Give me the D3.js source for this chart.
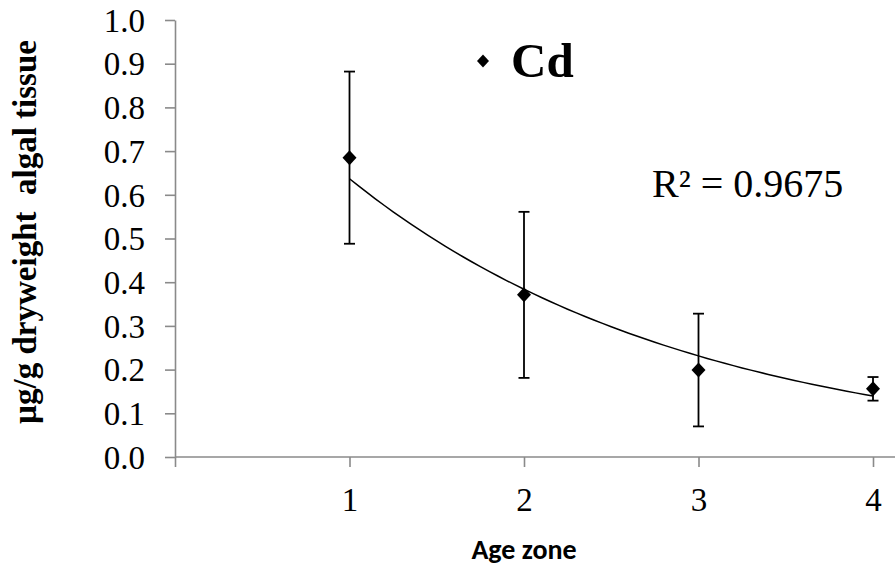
<!DOCTYPE html>
<html>
<head>
<meta charset="utf-8">
<script src="https://cdn.jsdelivr.net/npm/d3@7"></script>
<style>
html, body { margin: 0; padding: 0; background: #fff; }
svg { display: block; }
</style>
</head>
<body>
<svg id="chart" width="895" height="569"></svg>
<script>
// ---- data ----
const ageZones = [1, 2, 3, 4];
const cdMeans = [0.685, 0.371, 0.199, 0.156];
const cdErrors = [0.197, 0.190, 0.129, 0.027];
const yTicks = [0, 0.1, 0.2, 0.3, 0.4, 0.5, 0.6, 0.7, 0.8, 0.9, 1.0];
const xTicks = [0, 1, 2, 3, 4];
const xTickLabels = ["", "1", "2", "3", "4"];
const legendLabel = "Cd";
const r2Label = "R² = 0.9675";
const yTitle = "µg/g dryweight  algal tissue";
const xTitle = "Age zone";

const SERIF = '"Liberation Serif"';
const CAL = '"Carlito"';

const svg = d3.select("#chart");
const x = d3.scaleLinear().domain([0, 4]).range([175, 873]);
const y = d3.scaleLinear().domain([0, 1]).range([457, 20]);
const axisColor = "#8a8a8a";

// y axis
const yAxis = svg.append("g").attr("transform", `translate(${x(0)},0)`)
  .call(d3.axisLeft(y).tickValues(yTicks).tickFormat(d3.format(".1f")).tickSize(10).tickSizeOuter(0));
yAxis.select(".domain").attr("stroke", axisColor).attr("stroke-width", 1.6);
yAxis.selectAll(".tick line").attr("stroke", axisColor).attr("stroke-width", 1.6);
yAxis.selectAll(".tick text").attr("fill", "#000")
  .style("font-family", SERIF).style("font-size", "33px").attr("x", -30).attr("dy", "0.34em");

// x axis
const xAxis = svg.append("g").attr("transform", `translate(0,${y(0)})`)
  .call(d3.axisBottom(x).tickValues(xTicks).tickFormat((d, i) => xTickLabels[i]).tickSize(10).tickSizeOuter(0));
xAxis.select(".domain").attr("d", `M${x(0)},0H895`).attr("stroke", axisColor).attr("stroke-width", 1.6);
xAxis.selectAll(".tick line").attr("stroke", axisColor).attr("stroke-width", 1.6);
xAxis.selectAll(".tick text").attr("fill", "#000")
  .style("font-family", SERIF).style("font-size", "33px").attr("y", 31).attr("dy", "0.71em");

// exponential trendline (least squares on ln y)
const lnY = cdMeans.map(Math.log);
const mx = d3.mean(ageZones), my = d3.mean(lnY);
const b = d3.sum(ageZones, (xv, i) => (xv - mx) * (lnY[i] - my)) / d3.sum(ageZones, xv => (xv - mx) ** 2);
const a = Math.exp(my - b * mx);
const trendXs = d3.range(0, 61).map(i => 1 + i * 3 / 60);
svg.append("path")
  .attr("d", d3.line().x(d => x(d)).y(d => y(a * Math.exp(b * d)))(trendXs))
  .attr("fill", "none").attr("stroke", "#000").attr("stroke-width", 1.5);

// error bars
const eb = svg.append("g").attr("stroke", "#000").attr("stroke-width", 1.8);
ageZones.forEach((xv, i) => {
  const lo = cdMeans[i] - cdErrors[i], hi = cdMeans[i] + cdErrors[i];
  eb.append("line").attr("x1", x(xv)).attr("x2", x(xv)).attr("y1", y(lo)).attr("y2", y(hi));
  eb.append("line").attr("x1", x(xv) - 5.5).attr("x2", x(xv) + 5.5).attr("y1", y(lo)).attr("y2", y(lo));
  eb.append("line").attr("x1", x(xv) - 5.5).attr("x2", x(xv) + 5.5).attr("y1", y(hi)).attr("y2", y(hi));
});

// markers
const diamond = (cx, cy, w, h) => `M${cx},${cy - h}L${cx + w},${cy}L${cx},${cy + h}L${cx - w},${cy}Z`;
svg.append("g").selectAll("path").data(ageZones).join("path")
  .attr("d", (d, i) => diamond(x(d), y(cdMeans[i]), 7, 7.5))
  .attr("fill", "#000");

// legend
svg.append("path").attr("d", diamond(483, 61, 6, 6.5)).attr("fill", "#000");
svg.append("text").attr("x", 511).attr("y", 77)
  .style("font-family", SERIF).style("font-weight", "bold").style("font-size", "49px").text(legendLabel);

// R2
svg.append("text").attr("x", 652).attr("y", 197)
  .style("font-family", SERIF).style("font-size", "40px").text(r2Label);

// axis titles
svg.append("text").attr("transform", "translate(36,232) rotate(-90)")
  .attr("text-anchor", "middle").style("white-space", "pre")
  .style("font-family", SERIF).style("font-weight", "bold").style("font-size", "33px").text(yTitle);
svg.append("text").attr("x", 524).attr("y", 559).attr("text-anchor", "middle")
  .style("font-family", CAL).style("font-weight", "bold").style("font-size", "28px").text(xTitle);
</script>
</body>
</html>
